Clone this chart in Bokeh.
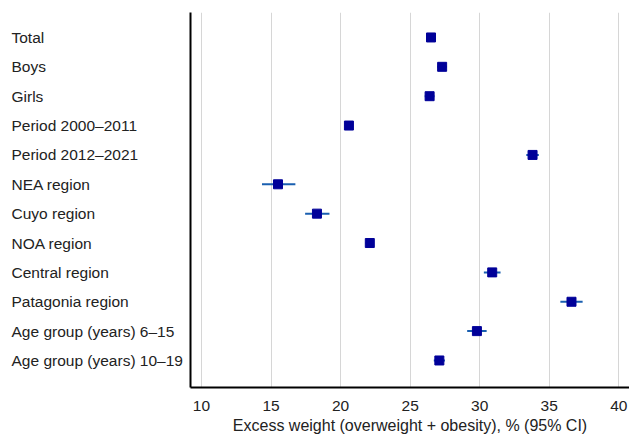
from bokeh.plotting import figure
from bokeh.layouts import row
from bokeh.models import Range1d, FixedTicker
from bokeh.embed import file_html
from bokeh.resources import INLINE
from bokeh.core.properties import value

categories = ["Total", "Boys", "Girls", "Period 2000–2011", "Period 2012–2021",
              "NEA region", "Cuyo region", "NOA region", "Central region",
              "Patagonia region", "Age group (years) 6–15", "Age group (years) 10–19"]
estimate = [26.5, 27.3, 26.4, 20.6, 33.8, 15.5, 18.3, 22.1, 30.9, 36.6, 29.8, 27.1]
lower = [26.2, 26.95, 26.05, 20.3, 33.35, 14.35, 17.45, 21.8, 30.3, 35.8, 29.1, 26.7]
upper = [26.8, 27.65, 26.75, 20.9, 34.25, 16.75, 19.2, 22.4, 31.5, 37.4, 30.5, 27.5]
x_ticks = [10, 15, 20, 25, 30, 35, 40]
x_title = "Excess weight (overweight + obesity), % (95% CI)"

rows = list(range(len(categories)))
FONT = "Liberation Sans"
H = 436
TOP = 12
BOTTOM = 49

yr = Range1d(start=len(categories) - 1 + 0.92, end=-0.85)

p = figure(width=441, height=H, x_range=Range1d(9.21, 40.77), y_range=yr,
           output_backend="svg", toolbar_location=None,
           min_border_left=2, min_border_right=0, min_border_top=TOP,
           min_border_bottom=BOTTOM)
p.outline_line_color = None
p.segment(x0=lower, y0=rows, x1=upper, y1=rows, line_color="#1a5fb0", line_width=2)
p.scatter(x=estimate, y=rows, marker="square", size=9,
          fill_color="#000099", line_color="#000099")

p.xaxis.ticker = FixedTicker(ticks=x_ticks)
p.xgrid.grid_line_color = "#d6d6d6"
p.xgrid.grid_line_width = 1
p.ygrid.visible = False
p.xaxis.axis_line_width = 2
p.xaxis.axis_line_color = "black"
p.xaxis.major_tick_line_color = None
p.xaxis.minor_tick_line_color = None
p.xaxis.major_label_text_font = FONT
p.xaxis.major_label_text_font_size = "15.5px"
p.xaxis.major_label_text_color = "#222222"
p.xaxis.major_label_standoff = 7
p.xaxis.axis_label = x_title
p.xaxis.axis_label_text_font = FONT
p.xaxis.axis_label_text_font_size = "16px"
p.xaxis.axis_label_text_font_style = "normal"
p.xaxis.axis_label_text_color = "#222222"
p.xaxis.axis_label_standoff = 3

p.yaxis.ticker = FixedTicker(ticks=[])
p.yaxis.axis_line_width = 2
p.yaxis.axis_line_color = "black"
p.yaxis.major_tick_line_color = None
p.yaxis.minor_tick_line_color = None

lp = figure(width=188, height=H, x_range=Range1d(0, 188), y_range=yr,
            x_axis_type=None, y_axis_type=None, output_backend="svg",
            toolbar_location=None, min_border_left=0, min_border_right=0,
            min_border_top=TOP, min_border_bottom=BOTTOM)
lp.outline_line_color = None
lp.grid.visible = False
lp.text(x=[11] * len(categories), y=rows, text=categories, text_align="left",
        text_baseline="middle", text_font=value(FONT), text_font_size="15.5px",
        text_color="#222222")

layout = row(lp, p)
open("out.html", "w").write(file_html(layout, INLINE))
